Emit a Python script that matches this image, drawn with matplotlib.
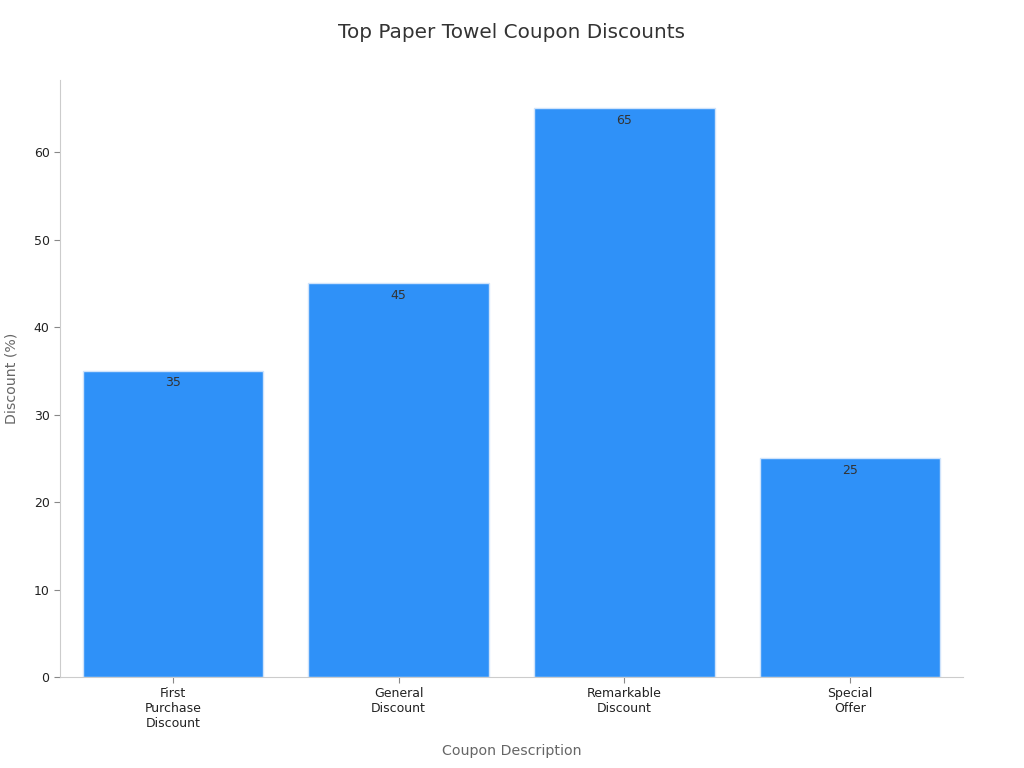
import matplotlib.pyplot as plt

# coupon discounts
coupons = ['First\nPurchase\nDiscount', 'General\nDiscount', 'Remarkable\nDiscount', 'Special\nOffer']
discount = [35, 45, 65, 25]

fig = plt.figure(figsize=(10.24, 7.68), dpi=100)
ax = fig.add_axes([0.0586, 0.1185, 0.8818, 0.7773])

x = range(len(coupons))
bars = ax.bar(x, discount, width=0.8, color='#2f91f8', edgecolor='#cfe3fb', linewidth=1)

for b, v in zip(bars, discount):
    ax.text(b.get_x() + b.get_width() / 2, v - 0.6, str(v), ha='center', va='top',
            fontsize=9, color='#333333')

ax.set_xticks(list(x))
ax.set_xticklabels(coupons, fontsize=9, color='#222222')
ax.set_xlim(-0.5, 3.5)
ax.set_ylim(0, 68.25)
ax.set_yticks([0, 10, 20, 30, 40, 50, 60])
ax.tick_params(axis='y', labelsize=9, colors='#222222')
ax.tick_params(axis='both', color='#888888', length=4)

ax.set_xlabel('Coupon Description', fontsize=10.2, color='#666666', labelpad=10)
ax.set_ylabel('Discount (%)', fontsize=10.2, color='#666666', labelpad=11)
fig.suptitle('Top Paper Towel Coupon Discounts', fontsize=14.4, color='#333333', y=0.97)

for s in ['top', 'right']:
    ax.spines[s].set_visible(False)
for s in ['left', 'bottom']:
    ax.spines[s].set_color('#cccccc')

fig.savefig('out.png', dpi=100)
